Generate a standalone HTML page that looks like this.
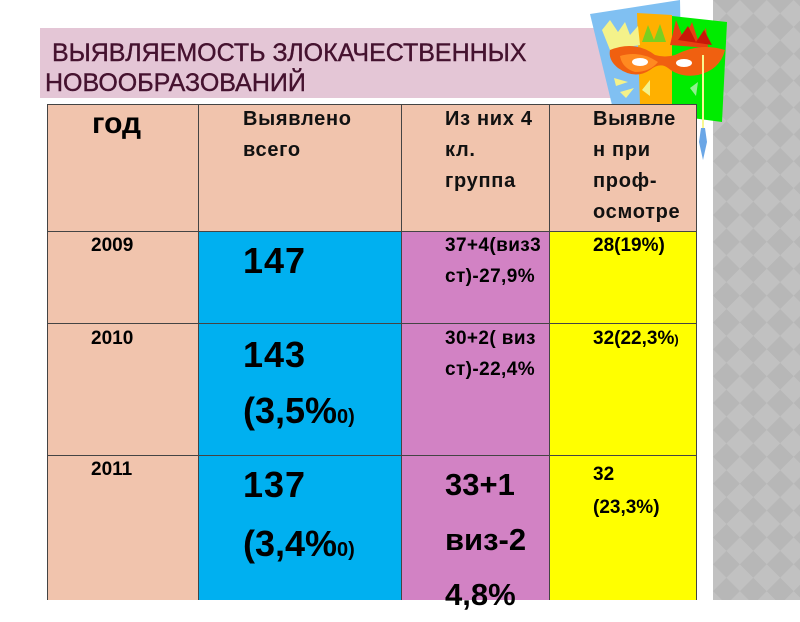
<!DOCTYPE html>
<html><head><meta charset="utf-8">
<style>
html,body{margin:0;padding:0;}
body{width:800px;height:600px;position:relative;overflow:hidden;background:#fff;font-family:"Liberation Sans","DejaVu Sans",sans-serif;}
.a{position:absolute;}
.t{position:absolute;white-space:nowrap;color:#000;font-weight:bold;line-height:1;}
.cell{position:absolute;box-sizing:border-box;}
.h{position:absolute;white-space:nowrap;font-weight:bold;font-size:20px;line-height:31px;letter-spacing:0.7px;color:#111;}
</style></head><body>

<!-- gray panel -->
<svg class="a" style="left:713px;top:0" width="87" height="600">
<defs><pattern id="p" width="38" height="38" patternUnits="userSpaceOnUse" patternTransform="rotate(45)">
<rect width="38" height="38" fill="#b7b7b7"/><rect width="19" height="19" fill="#c1c1c1"/><rect x="19" y="19" width="19" height="19" fill="#c1c1c1"/></pattern></defs>
<rect width="87" height="600" fill="url(#p)"/>
</svg>

<!-- title band -->
<div class="a" style="left:40px;top:28px;width:660px;height:70px;background:#e4c6d6;"></div>
<div class="a" style="left:45px;top:38px;font-size:25px;line-height:30px;color:#45122f;white-space:nowrap;letter-spacing:0px;-webkit-text-stroke:0.4px #45122f;">&nbsp;ВЫЯВЛЯЕМОСТЬ ЗЛОКАЧЕСТВЕННЫХ<br>НОВООБРАЗОВАНИЙ</div>

<!-- mask picture -->
<svg class="a" style="left:580px;top:0" width="150" height="165">
<polygon points="10,14 100,0 102,105 32,105" fill="#80c0f2"/>
<polygon points="57,13 92,15 92,105 60,105" fill="#ffb000"/>
<polygon points="92,16 147,22 142,122 112,118 92,105" fill="#00ec00"/>
<!-- feathers -->
<polygon points="22,30 30,20 38,32 45,22 50,35 58,26 60,45 30,50" fill="#f4f28a"/>
<polygon points="62,42 68,25 74,40 80,24 86,42" fill="#7ad020"/>
<polygon points="90,45 96,20 104,40 112,22 118,40 126,28 128,48" fill="#e84010"/>
<polygon points="98,40 108,26 116,42 124,30 132,45" fill="#c81808"/>
<!-- mask -->
<path d="M30,50 Q55,40 75,55 Q85,58 95,55 Q120,42 145,50 Q140,70 118,75 Q100,78 88,68 Q80,62 70,70 Q55,80 38,68 Q28,60 30,50Z" fill="#f06010"/>
<path d="M40,56 Q60,50 78,62 Q70,72 55,72 Q42,68 40,56Z" fill="#ff8a20"/>
<ellipse cx="60" cy="62" rx="8" ry="4" fill="#fff"/>
<ellipse cx="104" cy="63" rx="8" ry="4" fill="#fff"/>
<!-- spikes -->
<polygon points="34,78 48,82 36,86" fill="#f4f28a"/>
<polygon points="40,92 54,88 46,98" fill="#f4f28a"/>
<polygon points="62,90 70,80 70,96" fill="#f4f28a"/>
<polygon points="110,88 118,82 116,96" fill="#90f090"/>
<line x1="123" y1="55" x2="123" y2="150" stroke="#f8f890" stroke-width="2"/>
<polygon points="121,128 125,128 127,142 123,160 119,142" fill="#6aa6e6"/>
</svg>

<!-- table cells -->
<div class="cell" style="left:47px;top:104px;width:649px;height:127px;background:#f1c4ad;"></div>
<div class="cell" style="left:47px;top:231px;width:151px;height:369px;background:#f1c4ad;"></div>
<div class="cell" style="left:198px;top:231px;width:203px;height:369px;background:#00b0f0;"></div>
<div class="cell" style="left:401px;top:231px;width:148px;height:369px;background:#d282c4;"></div>
<div class="cell" style="left:549px;top:231px;width:147px;height:369px;background:#ffff00;"></div>
<!-- grid lines -->
<div class="a" style="left:47px;top:104px;width:649px;height:1px;background:#444;"></div>
<div class="a" style="left:47px;top:231px;width:649px;height:1px;background:#444;"></div>
<div class="a" style="left:47px;top:323px;width:649px;height:1px;background:#444;"></div>
<div class="a" style="left:47px;top:455px;width:649px;height:1px;background:#444;"></div>
<div class="a" style="left:47px;top:104px;width:1px;height:496px;background:#444;"></div>
<div class="a" style="left:198px;top:104px;width:1px;height:496px;background:#444;"></div>
<div class="a" style="left:401px;top:104px;width:1px;height:496px;background:#444;"></div>
<div class="a" style="left:549px;top:104px;width:1px;height:496px;background:#444;"></div>
<div class="a" style="left:696px;top:104px;width:1px;height:496px;background:#444;"></div>

<!-- header -->
<div class="t" style="left:92px;top:108.6px;font-size:30px;">год</div>
<div class="h" style="left:243px;top:104px;">Выявлено<br>всего</div>
<div class="h" style="left:445px;top:104px;">Из них 4<br>кл.<br>группа</div>
<div class="h" style="left:593px;top:104px;">Выявле<br>н при<br>проф-<br>осмотре</div>

<!-- years -->
<div class="t" style="left:91px;top:236px;font-size:19px;">2009</div>
<div class="t" style="left:91px;top:329px;font-size:19px;">2010</div>
<div class="t" style="left:91px;top:460px;font-size:19px;">2011</div>

<!-- col2 -->
<div class="t" style="left:243px;top:242.5px;font-size:36px;letter-spacing:1px;">147</div>
<div class="t" style="left:243px;top:336.5px;font-size:36px;letter-spacing:1px;">143</div>
<div class="t" style="left:243px;top:392.5px;font-size:36px;">(3,5%<span style="font-size:20px;">0)</span></div>
<div class="t" style="left:243px;top:466.5px;font-size:36px;letter-spacing:1px;">137</div>
<div class="t" style="left:243px;top:525.5px;font-size:36px;">(3,4%<span style="font-size:20px;">0)</span></div>

<!-- col3 -->
<div class="t" style="left:445px;top:230px;font-size:19px;line-height:31px;letter-spacing:0.4px;">37+4(виз3<br>ст)-27,9%</div>
<div class="t" style="left:445px;top:323px;font-size:19px;line-height:31px;letter-spacing:0.4px;">30+2( виз<br>ст)-22,4%</div>
<div class="t" style="left:445px;top:456.7px;font-size:31px;line-height:55px;">33+1<br>виз-2<br>4,8%</div>

<!-- col4 -->
<div class="t" style="left:593px;top:236px;font-size:19px;">28(19%)</div>
<div class="t" style="left:593px;top:329px;font-size:19px;">32(22,3%<span style="font-size:13px;">)</span></div>
<div class="t" style="left:593px;top:458px;font-size:19px;line-height:33px;">32<br>(23,3%)</div>

</body></html>
